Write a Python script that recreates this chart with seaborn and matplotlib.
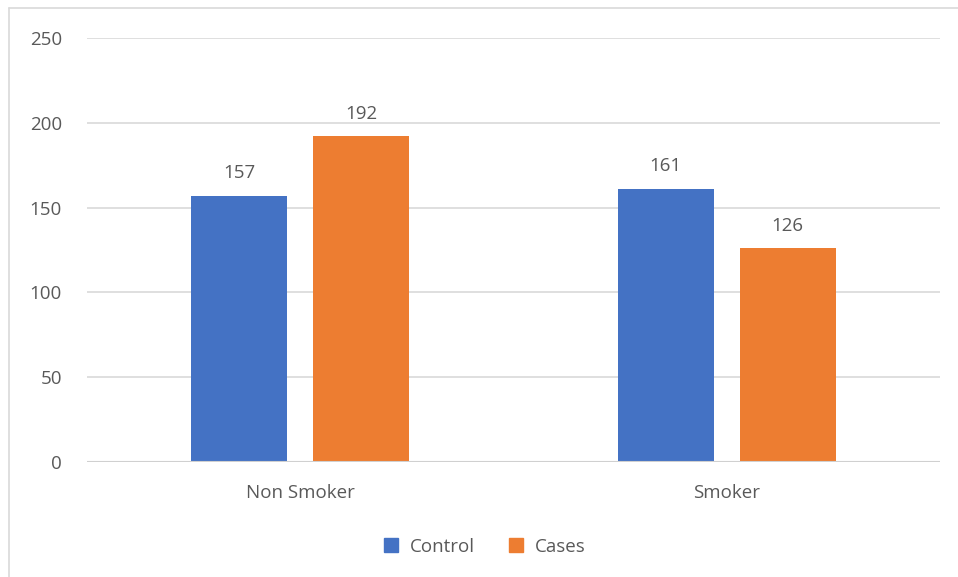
import pandas as pd
import matplotlib
matplotlib.use("Agg")
import matplotlib.pyplot as plt
import seaborn as sns
from matplotlib.lines import Line2D

# data
categories = ["Non Smoker", "Smoker"]
groups = ["Control", "Cases"]
control = [157, 161]
cases = [192, 126]

df = pd.DataFrame({
    "category": categories * 2,
    "group": ["Control"] * 2 + ["Cases"] * 2,
    "value": control + cases,
})

sns.set_style("white")
plt.rcParams["font.family"] = ["Open Sans", "DejaVu Sans"]
txt = "#595959"
fs = 13.5

fig = plt.figure(figsize=(9.58, 5.77), dpi=100)
ax = fig.add_axes([0.0908, 0.1993, 0.8904, 0.7348])

palette = {"Control": "#4472C4", "Cases": "#ED7D31"}
sns.barplot(data=df, x="category", y="value", hue="group", hue_order=groups,
            palette=palette, width=0.572, gap=0.21, saturation=1,
            linewidth=0, legend=False, ax=ax, zorder=3)

# data labels
for cont in ax.containers:
    for bar in cont:
        h = bar.get_height()
        ax.text(bar.get_x() + bar.get_width() / 2, h + 8, f"{h:.0f}",
                ha="center", va="bottom", color=txt, fontsize=fs)

ax.set_xlim(-0.5, 1.5)
ax.set_ylim(0, 250)
ax.set_yticks(range(0, 251, 50))
ax.yaxis.grid(True, color="#D9D9D9", linewidth=1.2, zorder=0)
ax.axhline(0, color="#D0D0D0", linewidth=1.5, zorder=4)
for s in ax.spines.values():
    s.set_visible(False)
ax.set_xlabel("")
ax.set_ylabel("")
ax.tick_params(axis="y", length=0, pad=18, colors=txt, labelsize=fs)
ax.tick_params(axis="x", length=0, pad=16, colors=txt, labelsize=fs)

handles = [Line2D([], [], marker="s", linestyle="", markersize=10,
                  color=palette[g]) for g in groups]
fig.legend(handles, groups, loc="center", bbox_to_anchor=(0.5, 0.052),
           ncol=2, frameon=False, handletextpad=0.0, columnspacing=1.2,
           labelcolor=txt, fontsize=fs)

# outer chart border
fig.add_artist(plt.Line2D([9 / 958, 9 / 958], [0, 1 - 8 / 577],
                          transform=fig.transFigure, color="#D9D9D9", lw=1.2))
fig.add_artist(plt.Line2D([9 / 958, 1], [1 - 8 / 577, 1 - 8 / 577],
                          transform=fig.transFigure, color="#D9D9D9", lw=1.2))

fig.savefig("out.png", dpi=100)
